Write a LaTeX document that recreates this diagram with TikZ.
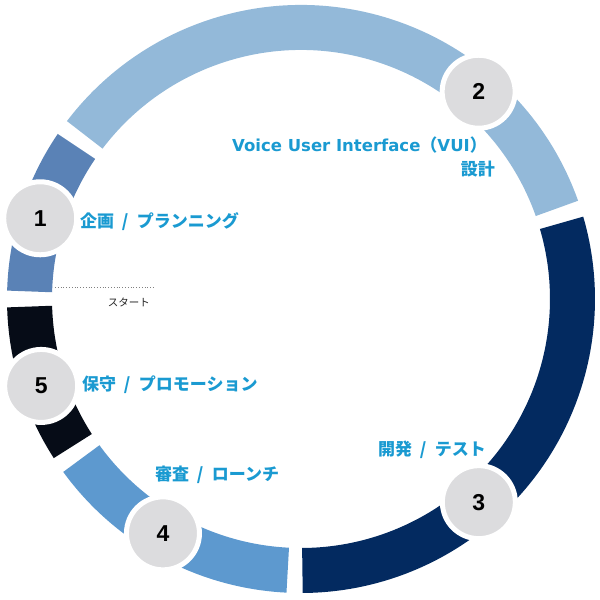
\documentclass[tikz,border=0pt]{standalone}
\usepackage{fontspec}
\setmainfont{Liberation Sans}
\newfontfamily\jpfont{Noto Sans CJK JP}
\newfontfamily\latfont{DejaVu Sans}
\usepackage{tikz}
\usetikzlibrary{positioning}
\definecolor{vlight}{HTML}{93B9D9}
\definecolor{vsteel}{HTML}{5A82B6}
\definecolor{vblack}{HTML}{060C17}
\definecolor{vblue}{HTML}{5D99CF}
\definecolor{vnavy}{HTML}{032A60}
\definecolor{vcyan}{HTML}{1A9AD1}
\definecolor{vgray}{HTML}{DCDCDE}
\newcommand{\sep}{\hspace{0.45em}/\hspace{0.5em}}
\tikzset{
  seg/.style={line width=45pt},
  stage/.style={circle, fill=vgray, draw=white, line width=5pt,
                minimum size=73pt, inner sep=0pt,
                font=\fontsize{23}{23}\selectfont\bfseries},
  lbl/.style={text=vcyan, inner sep=0pt,
              font=\fontsize{17}{20}\selectfont\jpfont\bfseries},
}

\begin{document}
\begin{tikzpicture}[x=1pt, y=1pt]
  \useasboundingbox (-301,-301) rectangle (299,299);
  % ring segments
  \draw[seg, vlight] (19.5:271.5pt) arc[start angle=19.5, end angle=142.8, radius=271.5pt];
  \draw[seg, vsteel] (145.8:271.5pt) arc[start angle=145.8, end angle=178.4, radius=271.5pt];
  \draw[seg, vblack] (181.6:271.5pt) arc[start angle=181.6, end angle=212.8, radius=271.5pt];
  \draw[seg, vblue] (216:271.5pt) arc[start angle=216, end angle=267.2, radius=271.5pt];
  \draw[seg, vnavy] (-89.7:271.5pt) arc[start angle=-89.7, end angle=16.3, radius=271.5pt];
  % stages
  \node[stage] (s1) at (162.8:273pt) {1};
  \node[stage] (s2) at (49.4:273pt) {2};
  \node[stage] (s3) at (-48.8:270pt) {3};
  \node[stage] (s4) at (239.5:272pt) {4};
  \node[stage] (s5) at (198.5:274pt) {5};
  % labels
  \node[lbl, anchor=base east] (vui) at (186,147)
    {{\latfont\bfseries\fontsize{16.5}{20}\selectfont Voice User Interface}（{\latfont\bfseries\fontsize{16.5}{20}\selectfont VUI}）};
  \node[lbl, anchor=east] (vuisub) at (194,130) {設計};
  \node[lbl, anchor=west] (plan) at (-221,77) {企画\sep プランニング};
  \node[lbl, anchor=west] (dev) at (77,-151) {開発\sep テスト};
  \node[lbl, anchor=west] (launch) at (-146,-176) {審査\sep ローンチ};
  \node[lbl, anchor=west] (maint) at (-219,-86) {保守\sep プロモーション};
  % start marker
  \coordinate (st1) at (-246,12);
  \coordinate (st2) at (-146,12);
  \draw[gray, dotted, line width=0.8pt] (st1) -- (st2);
  \node[font=\fontsize{10.5}{12}\selectfont\jpfont, text=black!85] (start) at (-172,-3) {スタート};
\end{tikzpicture}
\end{document}
